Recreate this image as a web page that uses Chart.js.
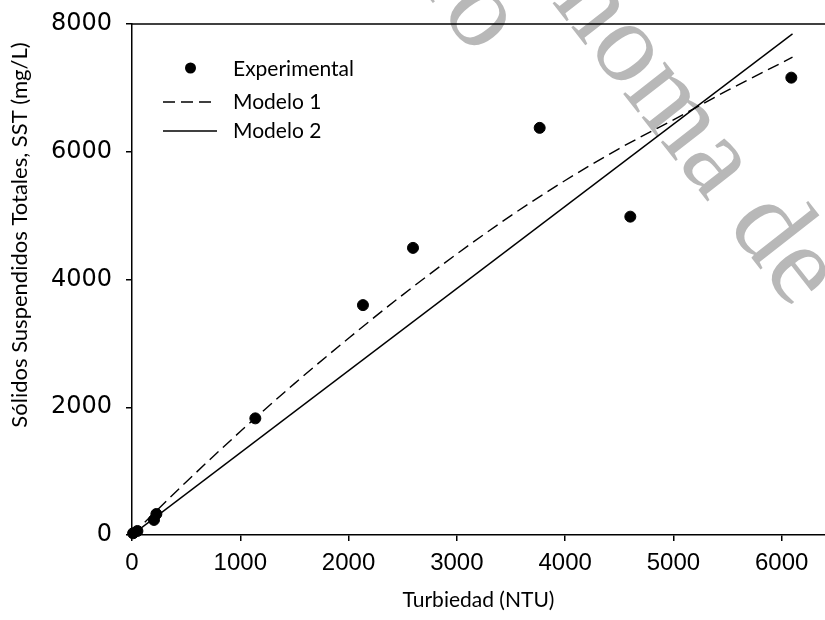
<!DOCTYPE html>
<html>
<head>
<meta charset="utf-8">
<script src="https://cdn.jsdelivr.net/npm/chart.js@4.4.0/dist/chart.umd.min.js"></script>
<style>
  html, body { margin: 0; padding: 0; background: #fff; }
  canvas { display: block; }
</style>
</head>
<body>
<canvas id="myChart" width="825" height="620"></canvas>
<script>
// experimental points: turbidity (NTU) and SST (mg/L)
const expTurb = [10, 50, 203, 225, 1139, 2133, 2595, 3765, 4602, 6089];
const expSST = [27, 63, 236, 329, 1826, 3599, 4495, 6374, 4984, 7160];

// Modelo 1 curve
const mod1Turb = [0, 250, 500, 1000, 1500, 2000, 2500, 3000, 3500, 4000, 4500, 5000, 5500, 6100];
const mod1SST = [0, 420, 830, 1620, 2370, 3080, 3760, 4400, 5000, 5550, 6050, 6500, 6960, 7480];

// Modelo 2 straight line
const mod2Turb = [0, 6100];
const mod2SST = [0, 7845];

const xTicks = [0, 1000, 2000, 3000, 4000, 5000, 6000];
const yTicks = [0, 2000, 4000, 6000, 8000];

const xTitle = "Turbiedad (NTU)";
const yTitle = "Sólidos Suspendidos Totales, SST (mg/L)";
const watermark = "Universidad Autónoma de Querétaro";

const pts = (xs, ys) => xs.map((x, i) => ({ x: x, y: ys[i] }));
const dash = [12, 6];

const decor = {
  id: "decor",
  beforeDraw(chart) {
    const ctx = chart.ctx;
    const size = 115;
    const ang = 52 * Math.PI / 180;
    ctx.save();
    ctx.font = size + 'px "Liberation Serif"';
    ctx.fillStyle = "#b8b8b8";
    const wo = ctx.measureText("o").width;
    const pre = ctx.measureText("Universidad Autón").width;
    const full = ctx.measureText(watermark).width;
    ctx.translate(625, 53);
    ctx.rotate(ang);
    ctx.fillText(watermark, -(pre + wo / 2), 0.23 * size);
    ctx.restore();
    ctx.save();
    ctx.font = size + 'px "Liberation Serif"';
    ctx.fillStyle = "#b8b8b8";
    ctx.translate(478, 18);
    ctx.rotate(ang);
    ctx.fillText(watermark, -(full - wo / 2), 0.23 * size);
    ctx.restore();
  },
  afterDraw(chart) {
    const ctx = chart.ctx;
    const a = chart.chartArea;
    ctx.save();
    // top frame line
    ctx.strokeStyle = "#000";
    ctx.lineWidth = 1.5;
    ctx.beginPath();
    ctx.moveTo(a.left, a.top);
    ctx.lineTo(chart.width, a.top);
    ctx.stroke();

    // axis titles
    ctx.fillStyle = "#000";
    ctx.font = "21px Lato";
    ctx.textAlign = "center";
    ctx.textBaseline = "middle";
    ctx.fillText(xTitle, (a.left + a.right) / 2, 600);
    ctx.save();
    ctx.font = "22px Lato";
    ctx.translate(20, 235);
    ctx.rotate(-Math.PI / 2);
    ctx.fillText(yTitle, 0, 0);
    ctx.restore();

    // legend inside the plot
    const ds = chart.data.datasets;
    const rows = [69, 102, 131];
    ctx.textAlign = "left";
    ds.forEach((d, i) => {
      const y = rows[i];
      if (d.showLine) {
        ctx.setLineDash(d.borderDash || []);
        ctx.lineWidth = d.borderWidth;
        ctx.beginPath();
        ctx.moveTo(163, y);
        ctx.lineTo(217, y);
        ctx.stroke();
        ctx.setLineDash([]);
      } else {
        ctx.beginPath();
        ctx.arc(190.5, y - 1, d.pointRadius, 0, Math.PI * 2);
        ctx.fill();
      }
      ctx.fillText(d.label, 233, y);
    });
    ctx.restore();
  },
};

const ctx = document.getElementById("myChart");

new Chart(ctx, {
  type: "scatter",
  data: {
    datasets: [
      {
        label: "Experimental",
        data: pts(expTurb, expSST),
        showLine: false,
        pointRadius: 5.5,
        pointHoverRadius: 5.5,
        backgroundColor: "#000",
        borderColor: "#000",
        clip: false,
      },
      {
        label: "Modelo 1",
        data: pts(mod1Turb, mod1SST),
        showLine: true,
        borderDash: dash,
        borderWidth: 1.4,
        borderColor: "#000",
        pointRadius: 0,
        cubicInterpolationMode: "monotone",
      },
      {
        label: "Modelo 2",
        data: pts(mod2Turb, mod2SST),
        showLine: true,
        borderWidth: 1.4,
        borderColor: "#000",
        pointRadius: 0,
      },
    ],
  },
  options: {
    responsive: false,
    animation: false,
    layout: { autoPadding: false, padding: { top: 24, right: 0, left: 0, bottom: 0 } },
    plugins: {
      legend: { display: false },
      tooltip: { enabled: false },
    },
    scales: {
      x: {
        type: "linear",
        min: 0,
        max: 6400,
        afterBuildTicks: (s) => { s.ticks = xTicks.map((v) => ({ value: v })); },
        afterFit: (s) => { s.height = 85; s.paddingRight = 0; s.paddingLeft = 0; },
        grid: { drawOnChartArea: false, drawTicks: true, tickLength: 6, color: "#000", lineWidth: 1.5 },
        border: { display: true, color: "#000", width: 1.5 },
        ticks: {
          font: { family: "Liberation Sans", size: 24 },
          color: "#000",
          padding: 8,
          maxRotation: 0,
          callback: (v) => String(v),
        },
      },
      y: {
        type: "linear",
        min: 0,
        max: 8000,
        afterBuildTicks: (s) => { s.ticks = yTicks.map((v) => ({ value: v })); },
        afterFit: (s) => { s.width = 132; s.paddingTop = 0; s.paddingBottom = 0; },
        grid: { drawOnChartArea: false, drawTicks: true, tickLength: 6, color: "#000", lineWidth: 1.5 },
        border: { display: true, color: "#000", width: 1.5 },
        ticks: {
          font: { family: "DejaVu Sans", size: 24 },
          color: "#000",
          padding: 14,
          callback: (v) => String(v),
        },
      },
    },
  },
  plugins: [decor],
});
</script>
</body>
</html>
